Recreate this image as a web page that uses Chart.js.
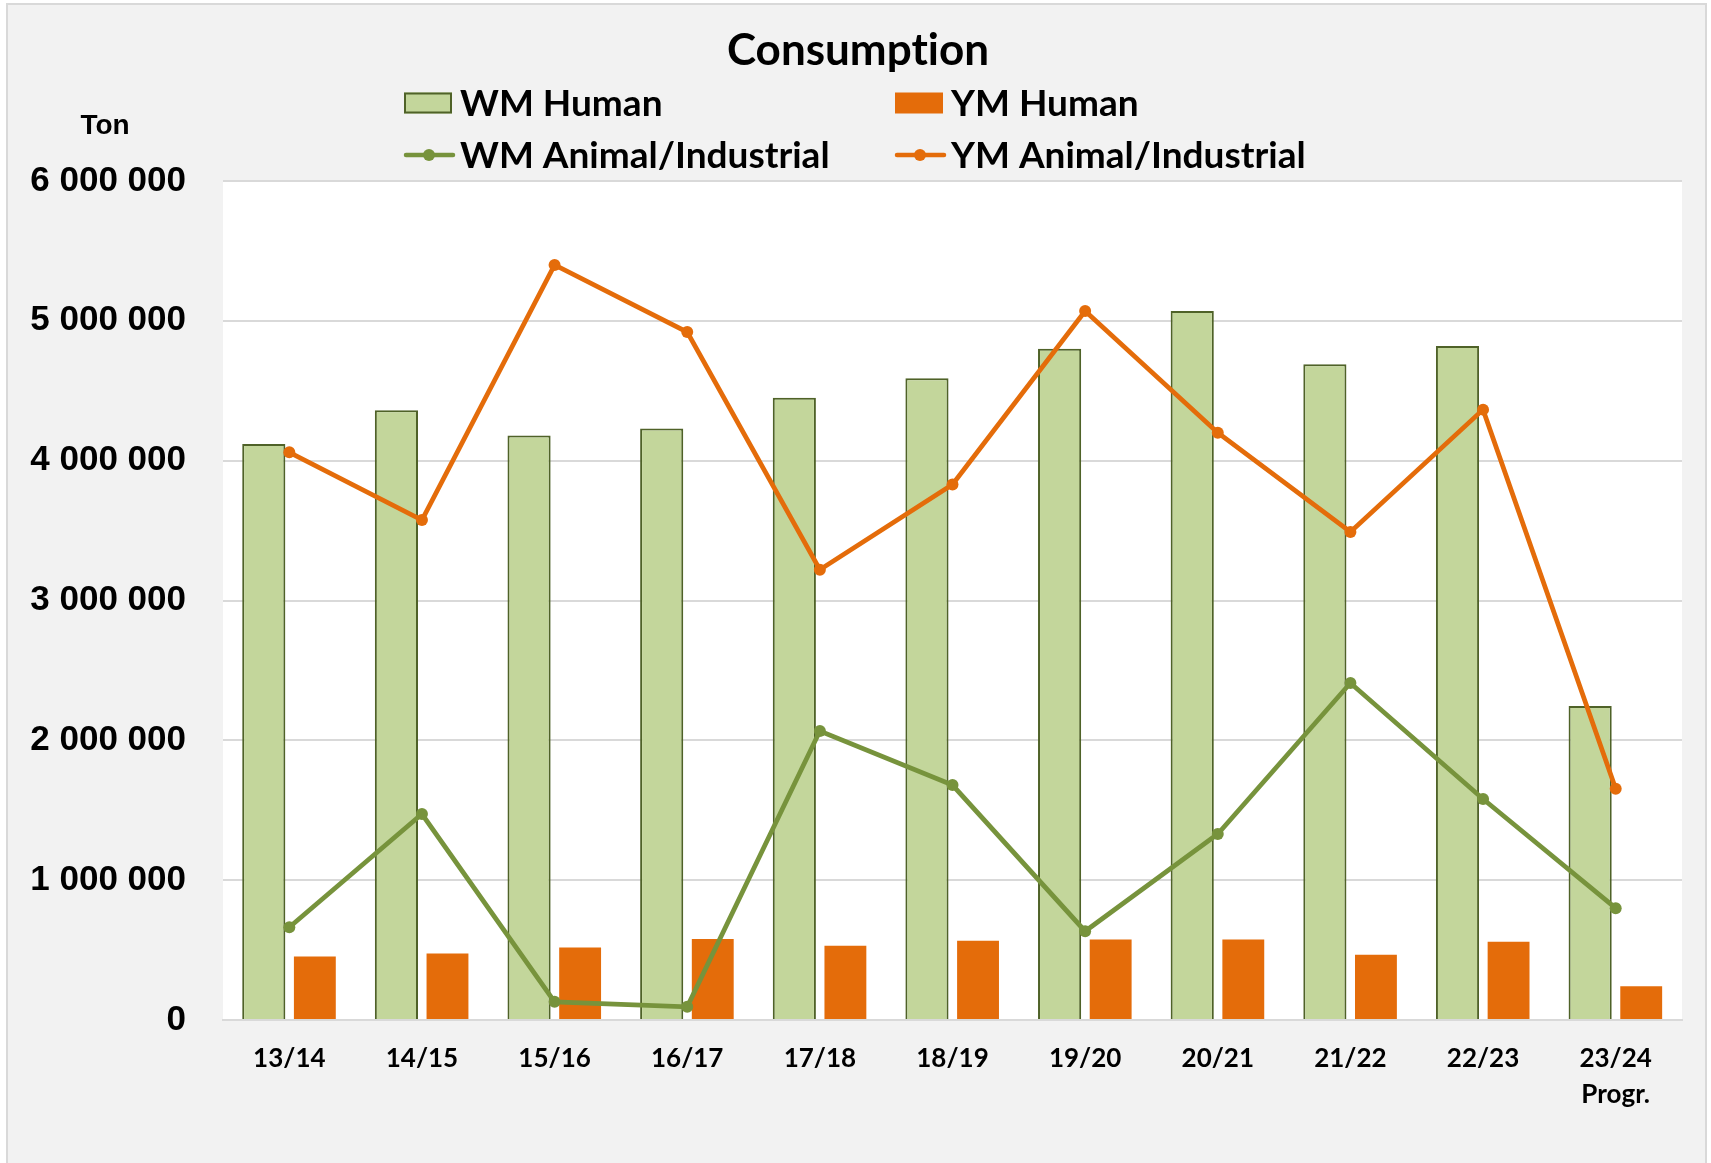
<!DOCTYPE html>
<html>
<head>
<meta charset="utf-8">
<script src="https://cdn.jsdelivr.net/npm/chart.js@4.4.1/dist/chart.umd.min.js"></script>
<style>
  html, body { margin: 0; padding: 0; background: #ffffff; }
  #wrap { width: 1711px; height: 1163px; position: relative; }
</style>
</head>
<body>
<div id="wrap"><canvas id="consumptionChart"></canvas></div>
<script>
const seasons = ['13/14', '14/15', '15/16', '16/17', '17/18', '18/19', '19/20', '20/21', '21/22', '22/23', ['23/24', 'Progr.']];
const wmHuman = [4120000, 4360000, 4180000, 4230000, 4450000, 4590000, 4800000, 5070000, 4690000, 4820000, 2245000];
const ymHuman = [455000, 475000, 519000, 579000, 531000, 567000, 575000, 575000, 467000, 559000, 242000];
const wmAnimal = [663000, 1473000, 130000, 94000, 2067000, 1680000, 635000, 1330000, 2410000, 1580000, 800000];
const ymAnimal = [4060000, 3575000, 5400000, 4920000, 3220000, 3830000, 5070000, 4200000, 3490000, 4365000, 1654000];
const yTicks = [0, 1000000, 2000000, 3000000, 4000000, 5000000, 6000000];

const PLOT_LEFT = 223, PLOT_TOP = 181, PLOT_RIGHT = 1682, PLOT_BOTTOM = 1020;

function spaced(v) {
    return String(v).replace(/\B(?=(\d{3})+(?!\d))/g, ' ');
}

// background, white plot area, title, "Ton" label and the 2x2 legend
const frame = {
    id: 'frame',
    beforeDraw(chart) {
        const c = chart.ctx, a = chart.chartArea;
        c.save();
        c.fillStyle = '#ffffff';
        c.fillRect(0, 0, chart.width, chart.height);
        c.fillStyle = '#f2f2f2';
        c.fillRect(7, 4, 1699, chart.height);
        c.strokeStyle = '#d9d9d9';
        c.lineWidth = 2;
        c.strokeRect(7, 4, 1699, chart.height + 10);
        c.fillStyle = '#ffffff';
        c.fillRect(a.left, a.top, a.right - a.left, a.bottom - a.top);
        c.restore();
    },
    afterDraw(chart) {
        const c = chart.ctx;
        c.save();
        c.fillStyle = '#000';
        c.textAlign = 'center';
        c.textBaseline = 'middle';
        // zero-width non-joiner keeps Lato from using its "ti" ligature
        c.font = 'bold 44px Lato, sans-serif';
        c.fillText('Consumpt\u200Cion', 858, 51);

        c.font = 'bold 28px "Liberation Sans", Arial, sans-serif';
        c.fillText('Ton', 105, 126);

        const slots = [
            { ds: 2, x: 404, y: 103 },
            { ds: 3, x: 895, y: 103 },
            { ds: 0, x: 404, y: 155 },
            { ds: 1, x: 895, y: 155 }
        ];
        c.font = 'bold 37px Lato, sans-serif';
        c.textAlign = 'left';
        slots.forEach(s => {
            const d = chart.data.datasets[s.ds];
            if (d.type === 'bar') {
                c.fillStyle = d.backgroundColor;
                c.fillRect(s.x, s.y - 10.5, 48, 21);
                if (d.borderWidth) {
                    c.strokeStyle = d.borderColor;
                    c.lineWidth = 2;
                    c.strokeRect(s.x + 1, s.y - 9.5, 46, 19);
                }
            } else {
                c.strokeStyle = d.borderColor;
                c.lineWidth = 4.5;
                c.lineCap = 'round';
                c.beginPath();
                c.moveTo(s.x + 2, s.y);
                c.lineTo(s.x + 49, s.y);
                c.stroke();
                c.fillStyle = d.borderColor;
                c.beginPath();
                c.arc(s.x + 25, s.y, 6, 0, Math.PI * 2);
                c.fill();
            }
            c.fillStyle = '#000';
            c.fillText(d.label, s.x + 56, s.y + 1);
        });
        c.restore();
    }
};

new Chart(document.getElementById('consumptionChart'), {
    data: {
        labels: seasons,
        datasets: [
            {
                type: 'line', label: 'WM Animal/Industrial', data: wmAnimal, order: 0,
                borderColor: '#77933c', backgroundColor: '#77933c', borderWidth: 4.75,
                pointRadius: 6, pointBorderWidth: 0, pointBackgroundColor: '#77933c', tension: 0
            },
            {
                type: 'line', label: 'YM Animal/Industrial', data: ymAnimal, order: 0,
                borderColor: '#e46c0a', backgroundColor: '#e46c0a', borderWidth: 4.75,
                pointRadius: 6, pointBorderWidth: 0, pointBackgroundColor: '#e46c0a', tension: 0
            },
            {
                type: 'bar', label: 'WM Human', data: wmHuman, order: 1,
                backgroundColor: '#c3d69b', borderColor: '#4f6228', borderWidth: 2,
                categoryPercentage: 0.77, barPercentage: 0.845
            },
            {
                type: 'bar', label: 'YM Human', data: ymHuman, order: 1,
                backgroundColor: '#e46c0a', borderWidth: 0,
                categoryPercentage: 0.77, barPercentage: 0.82
            }
        ]
    },
    options: {
        responsive: true,
        maintainAspectRatio: false,
        animation: false,
        layout: { padding: { left: 0, right: 1711 - PLOT_RIGHT, top: PLOT_TOP, bottom: 0 } },
        plugins: {
            legend: { display: false },
            tooltip: { enabled: false },
            title: { display: false }
        },
        scales: {
            x: {
                grid: { display: false, drawTicks: false },
                border: { display: true, color: '#d9d9d9', width: 2 },
                ticks: {
                    color: '#000',
                    padding: 21,
                    maxRotation: 0,
                    font: { family: 'Lato, sans-serif', size: 26, weight: 'bold', lineHeight: 1.385 }
                },
                afterFit(scale) { scale.height = 1163 - PLOT_BOTTOM; }
            },
            y: {
                min: 0,
                max: 6000000,
                afterBuildTicks(scale) { scale.ticks = yTicks.map(v => ({ value: v })); },
                grid: { color: '#d9d9d9', lineWidth: 2, drawTicks: false },
                border: { display: false },
                ticks: {
                    color: '#000',
                    padding: 37,
                    font: { family: '"Liberation Sans", Arial, sans-serif', size: 35, weight: 'bold' },
                    callback: v => spaced(v)
                },
                afterFit(scale) { scale.width = PLOT_LEFT; }
            }
        }
    },
    plugins: [frame]
});
</script>
</body>
</html>
